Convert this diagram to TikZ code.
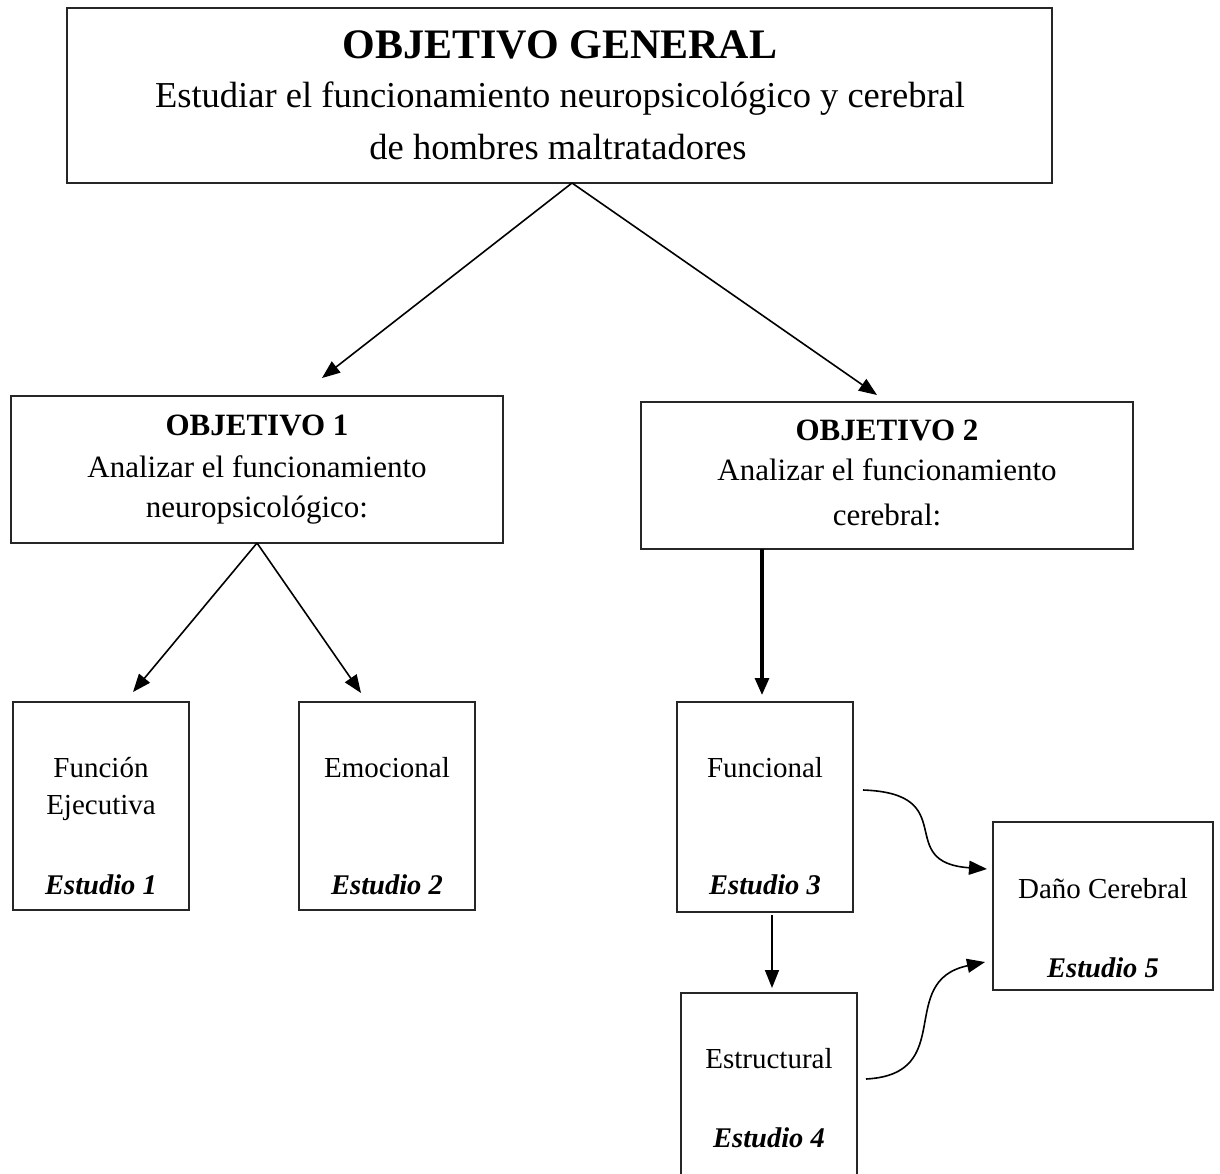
\documentclass[tikz,border=0pt]{standalone}
\usepackage{fontspec}
\setmainfont{Liberation Serif}
\usetikzlibrary{arrows.meta}
\begin{document}
\begin{tikzpicture}[x=1pt,y=-1pt,
  box/.style={draw=black!85, line width=1.3pt, rectangle, inner sep=0pt, outer sep=0pt},
  smalltxt/.style={anchor=base, inner sep=0pt, font=\fontsize{29}{34}\selectfont},
  studytxt/.style={anchor=base, inner sep=0pt, font=\fontsize{28.5}{34}\selectfont\bfseries\itshape},
  objtxt/.style={anchor=base, inner sep=0pt, font=\fontsize{31}{36}\selectfont},
  objttl/.style={anchor=base, inner sep=0pt, font=\fontsize{31}{36}\selectfont\bfseries},
  gentxt/.style={anchor=base, inner sep=0pt, font=\fontsize{36.5}{42}\selectfont},
  genttl/.style={anchor=base, inner sep=0pt, font=\fontsize{42}{48}\selectfont\bfseries},
  arr/.style={line width=1.6pt, -{Triangle[length=18pt,width=14pt]}},
  thickarr/.style={line width=3.2pt, -{Triangle[length=17pt,width=14pt]}}
]
\useasboundingbox (0,0) rectangle (1220,1173);

% boxes
\node[box, minimum width=985pt, minimum height=175pt] (gen) at (559.5,95.5) {};
\node[box, minimum width=492pt, minimum height=147pt] (obj1) at (257,469.5) {};
\node[box, minimum width=492pt, minimum height=147pt] (obj2) at (887,475.5) {};
\node[box, minimum width=176pt, minimum height=208pt] (fe) at (101,806) {};
\node[box, minimum width=176pt, minimum height=208pt] (emo) at (387,806) {};
\node[box, minimum width=176pt, minimum height=210pt] (fun) at (765,807) {};
\node[box, minimum width=176pt, minimum height=210pt] (est) at (769,1098) {};
\node[box, minimum width=220pt, minimum height=168pt] (dano) at (1103,906) {};

% texts
\node[genttl] (genT) at (560,58) {OBJETIVO GENERAL};
\node[gentxt] (genA) at (560,107) {Estudiar el funcionamiento neuropsicológico y cerebral};
\node[gentxt] (genB) at (558,159) {de hombres maltratadores};

\node[objttl] (o1T) at (257,435) {OBJETIVO 1};
\node[objtxt] (o1A) at (257,477) {Analizar el funcionamiento};
\node[objtxt] (o1B) at (257,517) {neuropsicológico:};

\node[objttl] (o2T) at (887,440) {OBJETIVO 2};
\node[objtxt] (o2A) at (887,480) {Analizar el funcionamiento};
\node[objtxt] (o2B) at (887,525) {cerebral:};

\node[smalltxt] (feA) at (101,777) {Función};
\node[smalltxt] (feB) at (101,814) {Ejecutiva};
\node[studytxt] (feS) at (101,894) {Estudio 1};

\node[smalltxt] (emoA) at (387,777) {Emocional};
\node[studytxt] (emoS) at (387,894) {Estudio 2};

\node[smalltxt] (funA) at (765,777) {Funcional};
\node[studytxt] (funS) at (765,894) {Estudio 3};

\node[smalltxt] (estA) at (769,1068) {Estructural};
\node[studytxt] (estS) at (769,1147) {Estudio 4};

\node[smalltxt] (danoA) at (1103,898) {Daño Cerebral};
\node[studytxt] (danoS) at (1103,977) {Estudio 5};

% connectors
\draw[arr] ([xshift=12.5pt]gen.south) -- ([xshift=65pt,yshift=18pt]obj1.north);
\draw[arr] ([xshift=12.5pt]gen.south) -- ([xshift=-10pt,yshift=7pt]obj2.north);
\draw[arr] (obj1.south) -- ([xshift=32pt,yshift=10pt]fe.north);
\draw[arr] (obj1.south) -- ([xshift=-26pt,yshift=9pt]emo.north);
\draw[thickarr] ([xshift=-125pt]obj2.south) -- ([xshift=-3pt,yshift=7pt]fun.north);
\draw[arr] ([xshift=7pt,yshift=-3pt]fun.south) -- ([xshift=3pt,yshift=5pt]est.north);
\draw[arr] ([xshift=10pt,yshift=17pt]fun.east) to[out=-2, in=176, out distance=100pt, in distance=95pt] ([xshift=-6pt,yshift=37pt]dano.west);
\draw[arr] ([xshift=9pt,yshift=19pt]est.east) to[out=3, in=192, out distance=92pt, in distance=92pt] ([xshift=-8pt,yshift=-56pt]dano.west);
\end{tikzpicture}
\end{document}
